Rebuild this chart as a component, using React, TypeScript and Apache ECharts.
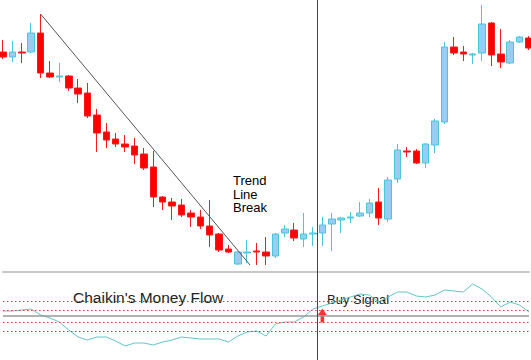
import React, { useEffect, useRef } from "react";
import * as echarts from "echarts";

// Candles: [open, close, low, high]
const candles: number[][] = [
  [122.0, 121.5, 121.3, 123.2],
  [121.5, 122.0, 121.0, 123.1],
  [122.0, 121.9, 120.9, 122.9],
  [122.0, 123.9, 121.9, 124.9],
  [123.9, 119.9, 119.4, 125.8],
  [119.9, 119.5, 119.4, 121.1],
  [119.5, 119.6, 119.0, 120.9],
  [119.6, 118.4, 118.1, 119.7],
  [118.4, 117.8, 116.9, 119.3],
  [117.9, 115.6, 115.4, 118.9],
  [115.7, 113.9, 112.0, 116.3],
  [114.0, 113.2, 112.4, 114.9],
  [113.3, 112.8, 112.5, 113.9],
  [112.8, 112.5, 112.0, 113.7],
  [112.6, 111.7, 110.8, 113.4],
  [111.8, 110.4, 110.2, 112.4],
  [110.5, 107.5, 106.5, 112.1],
  [107.5, 107.0, 106.2, 107.6],
  [107.0, 106.6, 105.2, 107.4],
  [106.7, 105.7, 105.5, 107.3],
  [105.9, 105.5, 104.5, 106.2],
  [105.5, 104.6, 104.3, 106.2],
  [104.6, 103.7, 102.5, 107.2],
  [103.8, 102.2, 102.0, 103.9],
  [102.3, 102.0, 101.9, 102.7],
  [100.8, 102.0, 100.7, 102.1],
  [101.9, 102.0, 100.9, 103.2],
  [102.1, 102.0, 100.7, 102.9],
  [102.0, 101.6, 100.7, 103.5],
  [101.6, 103.8, 101.4, 103.9],
  [103.9, 104.3, 103.5, 104.7],
  [104.2, 103.4, 103.1, 104.9],
  [103.3, 103.8, 102.5, 105.9],
  [103.8, 103.9, 102.6, 104.5],
  [103.9, 104.7, 102.6, 105.5],
  [104.8, 105.3, 102.1, 105.9],
  [105.2, 105.4, 103.9, 105.5],
  [105.4, 105.5, 104.9, 106.0],
  [105.6, 105.9, 105.5, 107.0],
  [105.9, 106.9, 105.5, 107.3],
  [107.0, 105.4, 104.7, 108.4],
  [105.3, 109.2, 105.0, 109.5],
  [109.3, 112.2, 108.9, 112.8],
  [112.1, 112.0, 111.5, 112.5],
  [112.1, 110.9, 110.8, 112.3],
  [110.9, 112.8, 110.4, 112.9],
  [112.7, 115.1, 111.9, 115.3],
  [115.0, 122.5, 114.8, 123.0],
  [122.5, 121.9, 121.7, 123.5],
  [122.0, 121.8, 121.1, 122.6],
  [121.7, 121.8, 120.8, 121.9],
  [121.9, 124.8, 121.1, 126.7],
  [124.9, 121.7, 120.6, 125.0],
  [121.8, 121.0, 120.4, 124.3],
  [120.9, 123.0, 120.8, 123.2],
  [123.0, 123.5, 122.9, 123.6],
  [123.4, 122.4, 122.2, 123.6],
];

const categories: string[] = candles.map((_, i) => `${i + 1}`);

// Chaikin's Money Flow values, one per candle
const cmf: number[] = [
  0.05, 0.05, 0.06, 0.07, 0.01, -0.02, -0.06, -0.14, -0.21, -0.24,
  -0.21, -0.21, -0.25, -0.3, -0.27, -0.27, -0.29, -0.26, -0.24, -0.21,
  -0.22, -0.23, -0.23, -0.23, -0.26, -0.2, -0.16, -0.15, -0.2, -0.08,
  -0.06, -0.06, -0.01, 0.07, 0.1, 0.13, 0.16, 0.19, 0.22, 0.21,
  0.14, 0.19, 0.24, 0.24, 0.2, 0.19, 0.21, 0.26, 0.25, 0.24,
  0.32, 0.27, 0.19, 0.09, 0.14, 0.11, 0.04,
];

// Trend line: [candle index, price]
const trendLine: number[][] = [
  [4, 125.8],
  [26.3, 100.7],
];

const signalIndex = 33.43; // vertical marker line
const buyArrow: number[][] = [[34, 0.005]];
const outerLevels = [0.15, -0.15];
const innerLevels = [0.06, -0.06];

const FONT = "'Liberation Sans', Arial, sans-serif";

export default function App() {
  const ref = useRef<HTMLDivElement>(null);

  useEffect(() => {
    if (!ref.current) return;
    document.body.style.margin = "0";
    const chart = echarts.init(ref.current, null, { renderer: "svg" });
    const n = candles.length - 1;

    const option: any = {
      animation: false,
      backgroundColor: "#ffffff",
      grid: [
        { left: 3, right: 2, top: 0, height: 272 },
        { left: 3, right: 2, top: 272, bottom: 0 },
      ],
      xAxis: [
        { type: "category", gridIndex: 0, data: categories, boundaryGap: false, show: false },
        { type: "value", gridIndex: 0, min: 0, max: n, show: false },
        {
          type: "value",
          gridIndex: 1,
          min: 0,
          max: n,
          position: "top",
          axisLine: { show: true, onZero: false, lineStyle: { color: "#c8c8c8", width: 2 } },
          axisTick: { show: false },
          axisLabel: { show: false },
          splitLine: { show: false },
        },
      ],
      yAxis: [
        { type: "value", gridIndex: 0, min: 100, max: 127.2, show: false, splitLine: { show: false } },
        { type: "value", gridIndex: 1, min: -0.44, max: 0.44, show: false, splitLine: { show: false } },
      ],
      series: [
        {
          type: "candlestick",
          xAxisIndex: 0,
          yAxisIndex: 0,
          data: candles,
          barWidth: 7,
          clip: false,
          itemStyle: {
            color: "#99ccf2",
            color0: "#ff0000",
            borderColor: "#48c6dc",
            borderColor0: "#ff1a1a",
            borderWidth: 1,
          },
        },
        {
          type: "line",
          xAxisIndex: 1,
          yAxisIndex: 0,
          data: trendLine,
          symbol: "none",
          silent: true,
          lineStyle: { color: "#555555", width: 1 },
          markLine: {
            silent: true,
            symbol: "none",
            label: { show: false },
            lineStyle: { color: "#444444", width: 1, type: "solid" },
            data: [{ xAxis: signalIndex }],
          },
        },
        {
          type: "line",
          xAxisIndex: 2,
          yAxisIndex: 1,
          data: cmf.map((v, i) => [i, v]),
          symbol: "none",
          silent: true,
          lineStyle: { color: "#62c4c8", width: 1 },
          markLine: {
            silent: true,
            symbol: "none",
            label: { show: false },
            data: [
              ...outerLevels.map((v) => ({ yAxis: v, lineStyle: { color: "#a84646", width: 1, type: [1.5, 2.5] } })),
              ...innerLevels.map((v) => ({ yAxis: v, lineStyle: { color: "#ff3030", width: 1, type: [1.5, 2.5] } })),
              { yAxis: 0, lineStyle: { color: "#999999", width: 1.5, type: "solid" } },
              { xAxis: signalIndex, lineStyle: { color: "#444444", width: 1, type: "solid" } },
            ],
          },
        },
        {
          type: "scatter",
          xAxisIndex: 2,
          yAxisIndex: 1,
          data: buyArrow,
          symbol: "path://M5,0 L10,6 L7,6 L7,13 L3,13 L3,6 L0,6 Z",
          symbolSize: [9, 14],
          itemStyle: { color: "#ff0000" },
          silent: true,
        },
      ],
      graphic: [
        {
          type: "text",
          left: 233,
          top: 174,
          style: {
            text: "Trend\nLine\nBreak",
            font: `13px ${FONT}`,
            lineHeight: 13.5,
            fill: "#000000",
          },
        },
        {
          type: "text",
          left: 73,
          top: 289,
          style: { text: "Chaikin's Money Flow", font: `15.5px ${FONT}`, fill: "#222222" },
        },
        {
          type: "text",
          left: 327,
          top: 293,
          style: { text: "Buy Signal", font: `13px ${FONT}`, fill: "#222222" },
        },
      ],
    };

    chart.setOption(option);
    return () => chart.dispose();
  }, []);

  return (
    <div
      ref={ref}
      style={{ position: "fixed", left: 0, top: 0, width: 531, height: 360, background: "#fff" }}
    />
  );
}
